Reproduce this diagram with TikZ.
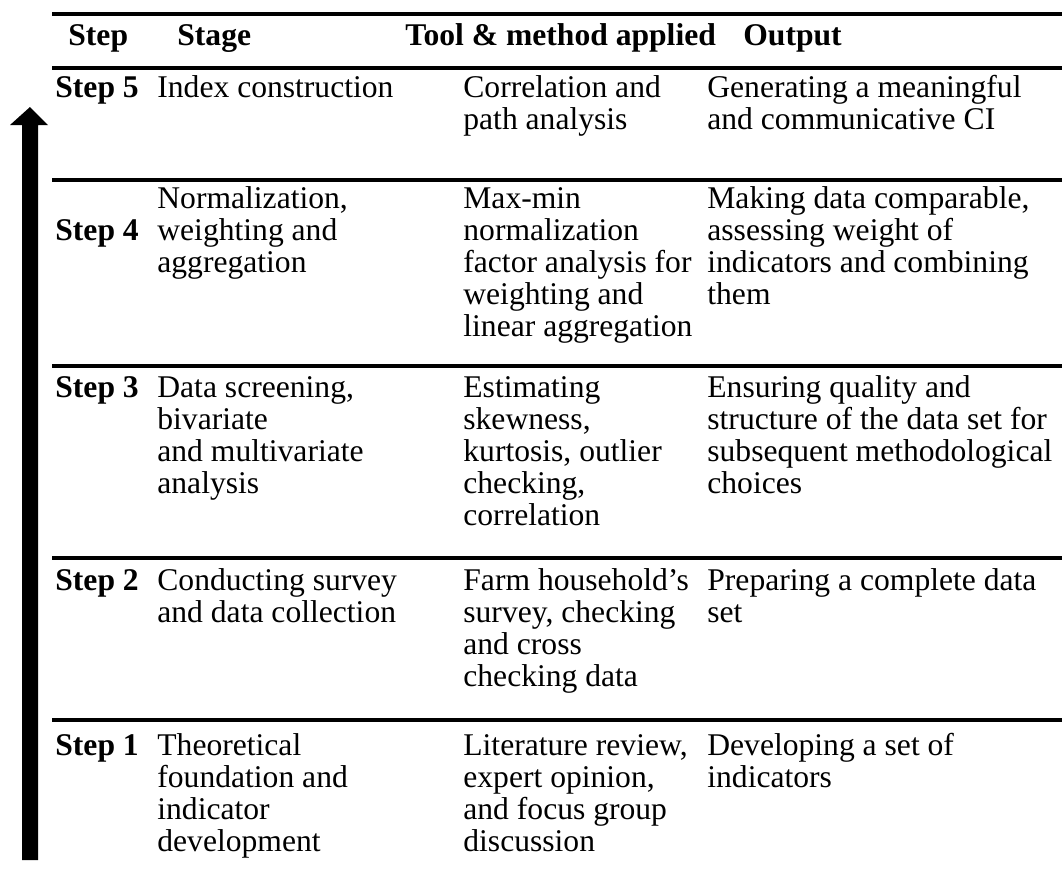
\documentclass[tikz,border=0pt]{standalone}
\usepackage{fontspec}
\setmainfont{Liberation Serif}
\usepackage{tikz}
\newcommand{\celltext}[1]{\begin{tabular}[t]{@{}l@{}}#1\end{tabular}}

\begin{document}
\begin{tikzpicture}[x=0.5pt,y=-0.5pt]
	\tikzstyle{cell}=[anchor=base west, inner sep=0pt, font=\fontsize{15.8}{16}\selectfont]
	\tikzstyle{head}=[cell, font=\fontsize{15.8}{16}\selectfont\bfseries]
	\tikzstyle{rule}=[line width=1.75pt]
	\useasboundingbox (0,0) rectangle (1062,875);
	% header
	\node[head] (hstep) at (68,45){Step};
	\node[head] (hstage) at (177,45){Stage};
	\node[head] (htool) at (405,45){Tool \& method applied};
	\node[head] (hout) at (743,45){Output};
	% step 5
	\node[head] (s5) at (55,97){Step 5};
	\node[cell] (st5) at (157,97){Index construction};
	\node[cell] (t5) at (463,97){\celltext{Correlation and\\path analysis}};
	\node[cell] (o5) at (707,97){\celltext{Generating a meaningful\\and communicative CI}};
	% step 4
	\node[head] (s4) at (55,240){Step 4};
	\node[cell] (st4) at (157,208){\celltext{Normalization,\\weighting and\\aggregation}};
	\node[cell] (t4) at (463,208){\celltext{Max-min\\normalization\\factor analysis for\\weighting and\\linear aggregation}};
	\node[cell] (o4) at (707,208){\celltext{Making data comparable,\\assessing weight of\\indicators and combining\\them}};
	% step 3
	\node[head] (s3) at (55,397){Step 3};
	\node[cell] (st3) at (157,397){\celltext{Data screening,\\bivariate\\and multivariate\\analysis}};
	\node[cell] (t3) at (463,397){\celltext{Estimating\\skewness,\\kurtosis, outlier\\checking,\\correlation}};
	\node[cell] (o3) at (707,397){\celltext{Ensuring quality and\\structure of the data set for\\subsequent methodological\\choices}};
	% step 2
	\node[head] (s2) at (55,590){Step 2};
	\node[cell] (st2) at (157,590){\celltext{Conducting survey\\and data collection}};
	\node[cell] (t2) at (463,590){\celltext{Farm household’s\\survey, checking\\and cross\\checking data}};
	\node[cell] (o2) at (707,590){\celltext{Preparing a complete data\\set}};
	% step 1
	\node[head] (s1) at (55,755){Step 1};
	\node[cell] (st1) at (157,755){\celltext{Theoretical\\foundation and\\indicator\\development}};
	\node[cell] (t1) at (463,755){\celltext{Literature review,\\expert opinion,\\and focus group\\discussion}};
	\node[cell] (o1) at (707,755){\celltext{Developing a set of\\indicators}};
	% rules
	\foreach \y in {14,68,180,366,558,720}
		\draw[rule] (52,\y) -- (1062,\y);
	% upward arrow
	\fill[black] (22,860) -- (22,125) -- (10,125) -- (30,107) -- (48,125) -- (38,125) -- (38,860) -- cycle;
\end{tikzpicture}
\end{document}
